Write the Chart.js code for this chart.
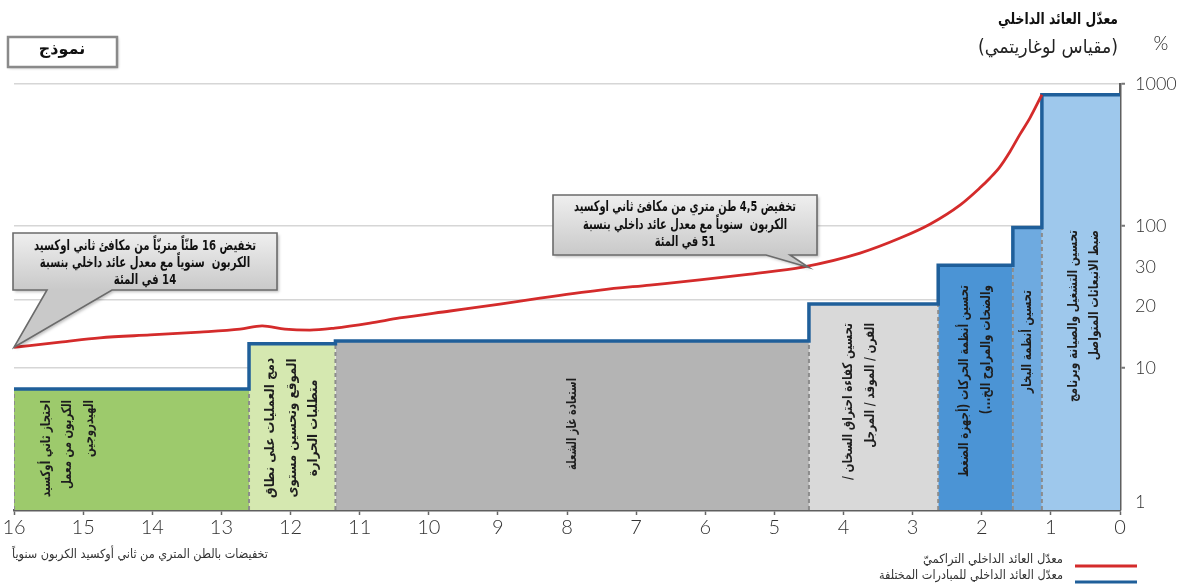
<!DOCTYPE html>
<html><head><meta charset="utf-8">
<script src="https://cdn.jsdelivr.net/npm/chart.js@4"></script>
<style>html,body{margin:0;padding:0;background:#fff}#wrap{width:1179px;height:587px;position:relative}</style>
</head><body><div id="wrap"><canvas id="c" width="1179" height="587"></canvas></div>
<script>
// ---------- data ----------
const segmentBounds = [16, 12.6, 11.35, 4.5, 2.63, 1.55, 1.13, 0];   // cumulative t CO2e / year
const segmentIRR    = [7.1, 14.8, 15.5, 28.2, 53, 97.6, 840];        // % (project IRR)
const segmentNames  = [
  ['احتجاز ثاني أوكسيد','الكربون من معمل','الهيدروجين'],
  ['دمج العمليات على نطاق','الموقع وتحسين مستوى','متطلبات الحرارة'],
  ['استعادة غاز الشعلة'],
  ['تحسين كفاءة احتراق السخان /','الفرن / الموقد / المرجل'],
  ['تحسين أنظمة الحركات (أجهزة الضغط','والضخات والمراوح الخ...)'],
  ['تحسين أنظمة البخار'],
  ['تحسين التشغيل والصيانة وبرنامج','ضبط الانبعاثات المتواصل']
];
const cumulativeX   = [16, 15.33, 14.76, 14.03, 13.31, 12.73, 12.41, 12.08, 11.72, 11.36, 10.85, 10.42, 9.69, 8.97, 8.39, 7.52, 6.80, 6.08, 5.35, 4.59, 3.76, 3.18, 2.75, 2.31, 2.03, 1.88, 1.74, 1.59, 1.45, 1.30, 1.13];
const cumulativeIRR = [14.0, 15.2, 16.3, 17.1, 17.9, 18.8, 19.8, 18.8, 18.5, 19.1, 20.7, 22.5, 25.2, 28.2, 31.1, 35.4, 38.4, 41.7, 45.9, 51.4, 64.5, 82.3, 103, 141, 185, 218, 260, 335, 440, 580, 840];
const calloutX      = [16, 4.5];
const calloutIRR    = [14, 51];
const calloutTexts  = [
  ['تخفيض 16 طنّاً متريّاً من مكافئ ثاني اوكسيد','الكربون  سنوياً مع معدل عائد داخلي بنسبة','14 في المئة'],
  ['تخفيض 4,5 طن متري من مكافئ ثاني اوكسيد','الكربون  سنوياً مع معدل عائد داخلي بنسبة','51 في المئة']
];
const yTickValues = [1.14, 10, 27.3, 30, 51, 100, 1000];
const yTickLabels = ['1', '10', '20', '', '30', '100', '1000'];
const gridValues  = [10, 30, 100, 1000];
const tickMarkValues = [10, 100, 1000];
const xTickValues = [16,15,14,13,12,11,10,9,8,7,6,5,4,3,2,1,0];

// ---------- styles ----------
const segmentColors = ['#9dca6c', '#d5e8b0', '#b4b4b4', '#d9d9d9', '#4b94d5', '#6eaae0', '#9ec8ec'];
const stepColor = '#1f5f9a';
const redColor = '#d42b2b';
const AR = '"DejaVu Sans", sans-serif';
const labelLayout = [
  {dx:-64, y:400, align:'top', maxLen:97},
  {dx:0,   y:428, align:'center', maxLen:140},
  {dx:0,   y:424, align:'center', maxLen:92},
  {dx:-14, y:323, align:'top', maxLen:157},
  {dx:0,   y:285, align:'top', maxLen:192},
  {dx:0,   y:290, align:'top', maxLen:103},
  {dx:3,   y:230, align:'top', maxLen:172}
];
const calloutLayout = [
  {x:13, y:233, w:264, h:57, b1:47, b2:112, cx:145, ly:[246,263,280], maxLen:222},
  {x:553, y:195, w:264, h:60, b1:766, b2:790, cx:685, ly:[207,225,242], maxLen:222}
];

// ---------- datasets ----------
const datasets = [];
datasets.push({label:'cum', data: cumulativeX.map((x,i)=>({x, y:cumulativeIRR[i]})), borderColor:redColor, borderWidth:2.8, pointRadius:0, cubicInterpolationMode:'monotone', fill:false, order:1});
const stepPts = [];
segmentIRR.forEach((v,i)=>{ stepPts.push({x:segmentBounds[i], y:v}, {x:segmentBounds[i+1], y:v}); });
datasets.push({label:'step', data: stepPts, borderColor:stepColor, borderWidth:3.5, pointRadius:0, tension:0, fill:false, order:2});
segmentIRR.forEach((v,i)=>{
  const h = i===0 ? v : Math.min(v, segmentIRR[i-1]);
  datasets.push({label:'sep'+i, data:[{x:segmentBounds[i], y:1},{x:segmentBounds[i], y:h}], borderColor:'#8c8c8c', borderWidth:2, borderDash:[4,3], pointRadius:0, fill:false, order:3});
});
segmentIRR.forEach((v,i)=>{
  datasets.push({label:'seg'+i, data:[{x:segmentBounds[i], y:v},{x:segmentBounds[i+1], y:v}], borderWidth:0, borderColor:'rgba(0,0,0,0)', backgroundColor:segmentColors[i], pointRadius:0, fill:'start', order:4});
});

// ---------- overlay drawing ----------
function vText(ctx, lines, cx, y, align, maxLen, font, lh){
  ctx.save();
  ctx.font = font;
  ctx.direction = 'rtl';
  ctx.fillStyle = '#1e1e1e';
  const longest = Math.max(...lines.map(l=>ctx.measureText(l).width));
  const sc = Math.min(1, maxLen/longest);
  ctx.translate(cx, y);
  ctx.rotate(-Math.PI/2);
  ctx.scale(sc, 1);
  ctx.textBaseline = 'middle';
  ctx.textAlign = align==='top' ? 'right' : 'center';
  const n = lines.length;
  lines.forEach((l,i)=>{ ctx.fillText(l, 0, (i-(n-1)/2)*lh); });
  ctx.restore();
}

const overlay = {
  id:'overlay',
  afterDraw(chart){
    const ctx = chart.ctx, xs = chart.scales.x, ys = chart.scales.y;
    // segment labels
    segmentNames.forEach((lines,i)=>{
      const L = labelLayout[i];
      const cx = (xs.getPixelForValue(segmentBounds[i]) + xs.getPixelForValue(segmentBounds[i+1]))/2 + L.dx;
      vText(ctx, lines, cx, L.y, L.align, L.maxLen, 'bold 13.5px '+AR, 21.5);
    });
    // callouts
    calloutLayout.forEach((B,i)=>{
      const tx = xs.getPixelForValue(calloutX[i]), ty = ys.getPixelForValue(calloutIRR[i]);
      ctx.save();
      ctx.beginPath();
      ctx.moveTo(B.x, B.y); ctx.lineTo(B.x+B.w, B.y); ctx.lineTo(B.x+B.w, B.y+B.h);
      ctx.lineTo(B.b2, B.y+B.h); ctx.lineTo(tx, ty); ctx.lineTo(B.b1, B.y+B.h);
      ctx.lineTo(B.x, B.y+B.h); ctx.closePath();
      const g = ctx.createLinearGradient(0, B.y, 0, B.y+B.h);
      g.addColorStop(0, '#efefef'); g.addColorStop(1, '#c9c9c9');
      ctx.shadowColor = 'rgba(0,0,0,0.25)'; ctx.shadowBlur = 3; ctx.shadowOffsetX = 2; ctx.shadowOffsetY = 2;
      ctx.fillStyle = g; ctx.fill();
      ctx.shadowColor = 'transparent';
      ctx.strokeStyle = '#6b6b6b'; ctx.lineWidth = 1.6; ctx.lineJoin = 'miter'; ctx.stroke();
      ctx.font = 'bold 14.5px '+AR; ctx.direction = 'rtl'; ctx.fillStyle = '#111';
      ctx.textAlign = 'center'; ctx.textBaseline = 'middle';
      const lines = calloutTexts[i];
      const longest = Math.max(...lines.map(l=>ctx.measureText(l).width));
      const sc = Math.min(1, B.maxLen/longest);
      ctx.translate(B.cx, 0); ctx.scale(sc, 1);
      lines.forEach((l,k)=> ctx.fillText(l, 0, B.ly[k]));
      ctx.restore();
    });
    // sample box
    ctx.save();
    ctx.shadowColor = 'rgba(0,0,0,0.3)'; ctx.shadowBlur = 3; ctx.shadowOffsetX = 1; ctx.shadowOffsetY = 1;
    ctx.fillStyle = '#fff'; ctx.fillRect(8, 37, 109, 30);
    ctx.shadowColor = 'transparent';
    ctx.strokeStyle = '#8a8a8a'; ctx.lineWidth = 2.5; ctx.strokeRect(8, 37, 109, 30);
    ctx.font = 'bold 16px '+AR; ctx.fillStyle = '#111'; ctx.textAlign = 'center'; ctx.textBaseline = 'middle'; ctx.direction='rtl';
    ctx.fillText('نموذج', 62, 50);
    // axis title
    ctx.textAlign = 'right';
    ctx.font = 'bold 16px '+AR; ctx.fillText('معدّل العائد الداخلي', 1118, 20, 120);
    ctx.font = '19px '+AR; ctx.fillStyle = '#222'; ctx.fillText('(مقياس لوغاريتمي)', 1118, 48, 140);
    ctx.direction = 'ltr'; ctx.textAlign = 'center'; ctx.font = '300 19px Lato'; ctx.fillText('%', 1161, 44);
    // x title
    ctx.direction = 'rtl'; ctx.textAlign = 'right'; ctx.font = '12.5px '+AR; ctx.fillStyle = '#333';
    ctx.fillText('تخفيضات بالطن المتري من ثاني أوكسيد الكربون سنوياً', 268, 555, 256);
    // legend
    ctx.fillText('معدّل العائد الداخلي التراكميّ', 1063, 560, 140);
    ctx.fillText('معدّل العائد الداخلي للمبادرات المختلفة', 1063, 576, 184);
    ctx.lineWidth = 3;
    ctx.strokeStyle = redColor; ctx.beginPath(); ctx.moveTo(1075, 566); ctx.lineTo(1137, 566); ctx.stroke();
    ctx.strokeStyle = stepColor; ctx.beginPath(); ctx.moveTo(1075, 582); ctx.lineTo(1137, 582); ctx.stroke();
    ctx.restore();
  }
};

new Chart(document.getElementById('c'), {
  type:'line',
  data:{datasets},
  options:{
    responsive:false, animation:false,
    layout:{padding:{top:84, left:14, right:0, bottom:0}},
    plugins:{legend:{display:false}, tooltip:{enabled:false}},
    scales:{
      x:{
        type:'linear', reverse:true, min:0, max:16,
        afterBuildTicks: s => { s.ticks = xTickValues.map(v=>({value:v})); },
        afterFit: s => { s.height = 77; },
        ticks:{autoSkip:false, maxRotation:0, padding:1, color:'#333', font:{family:'Lato', size:20, weight:'300'}},
        grid:{drawOnChartArea:false, drawTicks:true, tickLength:5, tickColor:'#666', tickWidth:1.5},
        border:{color:'#5f5f5f', width:2.5}
      },
      y:{
        type:'logarithmic', position:'right', min:1, max:1000,
        afterBuildTicks: s => { s.ticks = yTickValues.map(v=>({value:v})); },
        afterFit: s => { s.width = 59; },
        ticks:{autoSkip:false, padding:10, color:'#333', font:{family:'Lato', size:18, weight:'300'},
          callback:(v,i)=> yTickLabels[i]},
        grid:{drawOnChartArea:true, lineWidth:1.5, tickLength:5, tickWidth:2,
          color: c => gridValues.includes(c.tick && c.tick.value) ? '#d6d6d6' : 'rgba(0,0,0,0)',
          tickColor: c => tickMarkValues.includes(c.tick && c.tick.value) ? '#777' : 'rgba(0,0,0,0)'},
        border:{color:'#5f5f5f', width:2.5}
      }
    }
  },
  plugins:[overlay]
});
</script></body></html>
